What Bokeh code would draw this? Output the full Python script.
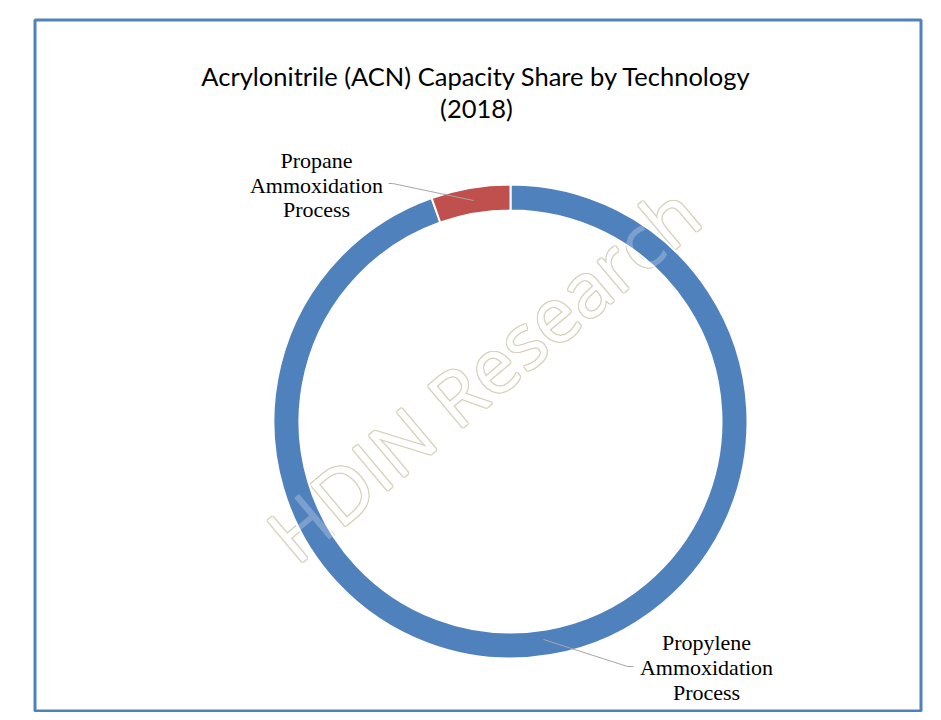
import numpy as np
from bokeh.plotting import figure
from bokeh.models import Range1d, ColumnDataSource
from bokeh.core.properties import value
from bokeh.embed import file_html
from bokeh.resources import INLINE

# ---- data ----
technologies = ["Propylene Ammoxidation Process", "Propane Ammoxidation Process"]
shares = [94.6, 5.4]
colors = ["#4F81BD", "#C0504D"]
title_lines = ["Acrylonitrile (ACN) Capacity Share by Technology", "(2018)"]
watermark = "HDIN Research"

W, H = 925, 712
p = figure(width=W, height=H, output_backend="svg", toolbar_location=None,
           x_range=Range1d(0, W), y_range=Range1d(0, H), min_border=0)
p.axis.visible = False
p.grid.visible = False
p.outline_line_color = None
p.background_fill_color = "white"

def Y(py):
    return H - py

# frame
p.quad(left=[34.5], right=[920.5], top=[Y(19.5)], bottom=[Y(710.5)],
       fill_color=None, line_color="#4F81BD", line_width=3)

# title
p.text(x=[476, 476], y=[Y(75), Y(107)], text=title_lines,
       text_font=value("Lato"), text_font_size="25.5px", text_color="#000000",
       text_align="center", text_baseline="middle")

cx, cy = 510, Y(421)
r_out, r_in = 237, 211

# watermark underlay (outlined look)
wx, wy = 482, Y(372)
ang = np.deg2rad(40)
wfs = "76px"
for dx, dy in [(-1, 0), (1, 0), (0, -1), (0, 1), (-1, -1), (1, 1), (-1, 1), (1, -1)]:
    p.text(x=[wx], y=[wy], text=[watermark], angle=ang, x_offset=dx, y_offset=dy,
           text_font=value("Open Sans"), text_font_size=wfs,
           text_color="#d6d2bd", text_align="center", text_baseline="middle")
p.text(x=[wx], y=[wy], text=[watermark], angle=ang,
       text_font=value("Open Sans"), text_font_size=wfs,
       text_color="#ffffff", text_align="center", text_baseline="middle")

# donut
frac = np.array(shares) / sum(shares)
cum = np.concatenate([[0], np.cumsum(frac)])
start = np.pi / 2 - 2 * np.pi * cum[:-1]
end = np.pi / 2 - 2 * np.pi * cum[1:]
src = ColumnDataSource(dict(start=start, end=end, color=colors, tech=technologies))
p.annular_wedge(x=cx, y=cy, inner_radius=r_in, outer_radius=r_out,
                start_angle="start", end_angle="end", direction="clock",
                fill_color="color", line_color="white", line_width=2, source=src)

# watermark overlay faint
p.text(x=[wx], y=[wy], text=[watermark], angle=ang,
       text_font=value("Open Sans"), text_font_size=wfs,
       text_color="#ffffff", text_alpha=0.25, text_align="center", text_baseline="middle")

# leader lines
p.line(x=[473, 392, 388], y=[Y(200), Y(183), Y(183)], line_color="#a6a6a6", line_width=1)
p.line(x=[543, 627, 633], y=[Y(639), Y(666), Y(666)], line_color="#a6a6a6", line_width=1)

# labels
lab_font = value("Liberation Serif")
p.text(x=[316, 316, 316], y=[Y(160), Y(185), Y(209)],
       text=["Propane", "Ammoxidation", "Process"],
       text_font=lab_font, text_font_size="22px", text_color="#000000",
       text_align="center", text_baseline="middle")
p.text(x=[706, 706, 706], y=[Y(642), Y(667), Y(692)],
       text=["Propylene", "Ammoxidation", "Process"],
       text_font=lab_font, text_font_size="22px", text_color="#000000",
       text_align="center", text_baseline="middle")

open("out.html", "w").write(file_html(p, INLINE))
